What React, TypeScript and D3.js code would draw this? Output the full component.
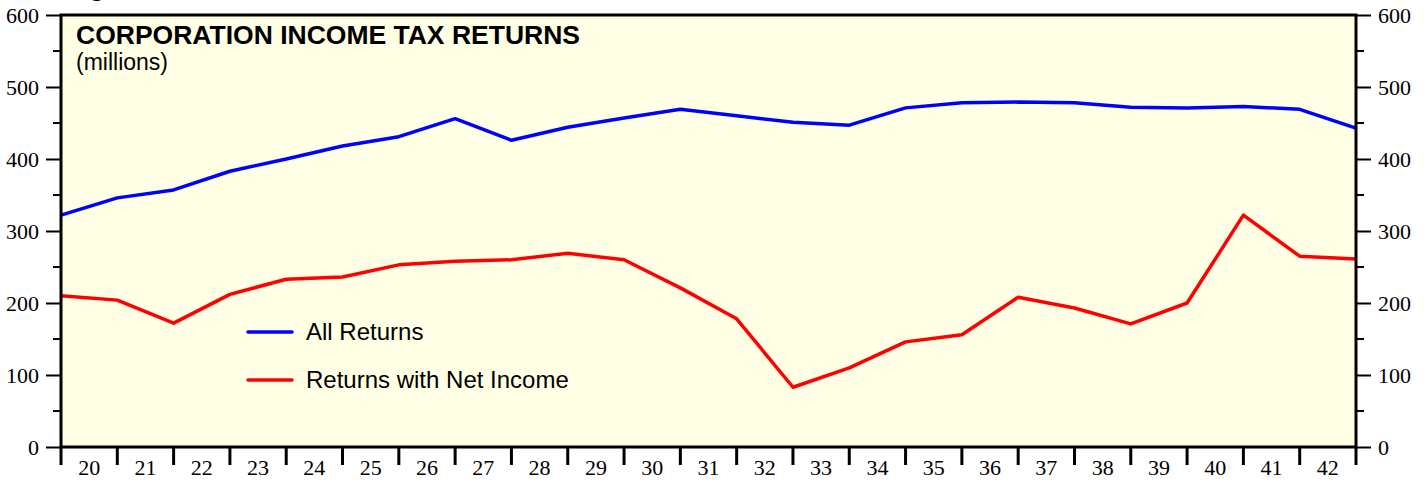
import React, { useEffect, useRef } from "react";
import * as d3 from "d3";

// years shown on the axis (labels sit between ticks)
const yearLabels = ["20", "21", "22", "23", "24", "25", "26", "27", "28", "29", "30", "31",
  "32", "33", "34", "35", "36", "37", "38", "39", "40", "41", "42"];

// values at each tick boundary
const allReturns = [322, 346, 357, 383, 400, 418, 431, 456, 426, 444, 457, 469,
  460, 451, 447, 471, 478, 479, 478, 472, 471, 473, 469, 443];
const netIncomeReturns = [210, 204, 172, 212, 233, 236, 253, 258, 260, 269, 260, 221,
  178, 83, 110, 146, 156, 208, 193, 171, 200, 322, 265, 261];

const yTicks = [0, 100, 200, 300, 400, 500, 600];
const yMinorTicks = [50, 150, 250, 350, 450, 550];

const series = [
  { name: "All Returns", color: "#0000ff", values: allReturns },
  { name: "Returns with Net Income", color: "#ff0000", values: netIncomeReturns },
];

const W = 1427;
const H = 480;
const left = 61, right = 1356, top = 15, bottom = 447;

const App = () => {
  const ref = useRef<SVGSVGElement>(null);

  useEffect(() => {
    const svg = d3.select(ref.current);
    svg.selectAll("*").remove();

    const x = d3.scaleLinear().domain([0, yearLabels.length]).range([left, right]);
    const y = d3.scaleLinear().domain([0, 600]).range([bottom, top]);

    const serif = "'Liberation Serif', 'Times New Roman', serif";
    const sans = "'Liberation Sans', Arial, Helvetica, sans-serif";

    // heading above the frame, cut off by the page edge as in the source
    svg.append("text")
      .attr("x", 66).attr("y", -4)
      .attr("font-family", sans).attr("font-weight", "bold").attr("font-size", 26)
      .text("Figure");

    svg.append("rect")
      .attr("x", left).attr("y", top)
      .attr("width", right - left).attr("height", bottom - top)
      .attr("fill", "#ffffe6");

    // y axes, both sides
    const yLeft = d3.axisLeft(y).tickValues(yTicks).tickSize(15).tickPadding(7).tickFormat(d3.format("d"));
    const gl = svg.append("g").attr("transform", `translate(${left},0)`).call(yLeft);
    const yRight = d3.axisRight(y).tickValues(yTicks).tickSize(15).tickPadding(7).tickFormat(d3.format("d"));
    const gr = svg.append("g").attr("transform", `translate(${right},0)`).call(yRight);
    [gl, gr].forEach((g) => {
      g.select(".domain").remove();
      g.selectAll("line").attr("stroke", "#000").attr("stroke-width", 2);
      g.selectAll("text").attr("font-family", serif).attr("font-size", 22).attr("fill", "#000");
    });
    svg.append("g").selectAll("line").data(yMinorTicks).join("line")
      .attr("x1", left - 8).attr("x2", left).attr("y1", (d) => y(d)).attr("y2", (d) => y(d))
      .attr("stroke", "#000").attr("stroke-width", 2);
    svg.append("g").selectAll("line").data(yMinorTicks).join("line")
      .attr("x1", right).attr("x2", right + 8).attr("y1", (d) => y(d)).attr("y2", (d) => y(d))
      .attr("stroke", "#000").attr("stroke-width", 2);

    // bottom ticks at boundaries, labels centred between them
    const bounds = d3.range(yearLabels.length + 1);
    svg.append("g").selectAll("line").data(bounds).join("line")
      .attr("x1", (d) => x(d)).attr("x2", (d) => x(d))
      .attr("y1", bottom).attr("y2", bottom + 18)
      .attr("stroke", "#000").attr("stroke-width", 3);
    svg.append("g").selectAll("text").data(yearLabels).join("text")
      .attr("x", (_, i) => x(i + 0.5)).attr("y", 475)
      .attr("text-anchor", "middle")
      .attr("font-family", serif).attr("font-size", 22)
      .text((d) => d);

    // lines
    const line = d3.line<number>().x((_, i) => x(i)).y((d) => y(d));
    series.forEach((s) => {
      svg.append("path")
        .datum(s.values)
        .attr("d", line)
        .attr("fill", "none")
        .attr("stroke", s.color)
        .attr("stroke-width", 3.5)
        .attr("stroke-linejoin", "round");
    });

    // frame
    svg.append("rect")
      .attr("x", left).attr("y", top)
      .attr("width", right - left).attr("height", bottom - top)
      .attr("fill", "none").attr("stroke", "#000").attr("stroke-width", 3);

    // title
    svg.append("text")
      .attr("x", 76).attr("y", 44)
      .attr("font-family", sans).attr("font-weight", "bold").attr("font-size", 26.5)
      .text("CORPORATION INCOME TAX RETURNS");
    svg.append("text")
      .attr("x", 76).attr("y", 70)
      .attr("font-family", sans).attr("font-size", 23)
      .text("(millions)");

    // legend
    const lg = svg.append("g").selectAll("g").data(series).join("g")
      .attr("transform", (_, i) => `translate(248,${332 + i * 48})`);
    lg.append("line").attr("x1", 0).attr("x2", 44)
      .attr("stroke", (d) => d.color).attr("stroke-width", 3.5).attr("stroke-linecap", "round");
    lg.append("text").attr("x", 58).attr("y", 8)
      .attr("font-family", sans).attr("font-size", 24)
      .text((d) => d.name);
  }, []);

  return (
    <svg ref={ref} width={W} height={H} style={{ position: "absolute", left: 0, top: 0, overflow: "visible" }} />
  );
};

export default App;
